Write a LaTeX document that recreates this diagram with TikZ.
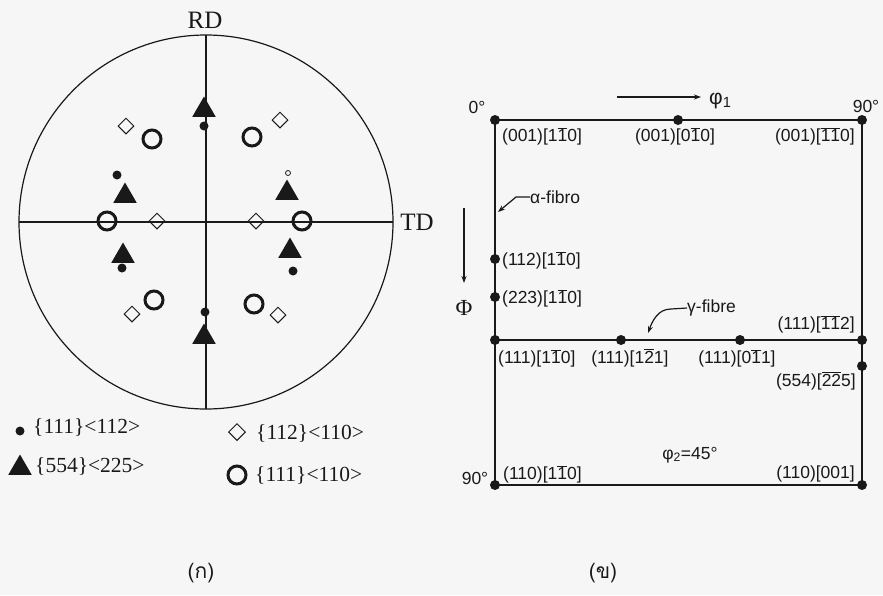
\documentclass[tikz,border=0pt]{standalone}
\usepackage{fontspec}
\setmainfont{Liberation Serif}
\newfontfamily\arialf{Liberation Sans}
\newfontfamily\thaifont[Script=Thai]{Loma}
\usetikzlibrary{shapes.geometric,arrows.meta}
\newcommand{\nb}[1]{\ensuremath{\overline{\mbox{#1}}}}
\definecolor{bgc}{RGB}{246,246,246}
\definecolor{ink}{RGB}{25,25,25}
\tikzset{
  pdot/.style={circle,fill=ink,inner sep=0pt,minimum size=9pt},
  sdot/.style={circle,draw=ink,line width=0.8pt,inner sep=0pt,minimum size=5pt},
  tri/.style={regular polygon,regular polygon sides=3,fill=ink,inner sep=0pt,minimum size=27pt},
  ocirc/.style={circle,draw=ink,line width=3pt,inner sep=0pt,minimum size=18pt},
  dia/.style={diamond,draw=ink,line width=1pt,inner sep=0pt,minimum size=16pt},
  rdot/.style={circle,fill=ink,inner sep=0pt,minimum size=10pt},
  lab/.style={font=\arialf\fontsize{17.5}{19}\selectfont,text=ink,inner sep=0pt},
  leg/.style={font=\fontsize{21.5}{23}\selectfont,text=ink,inner sep=0pt},
  ax/.style={font=\fontsize{25}{27}\selectfont,text=ink,inner sep=0pt},
  frame/.style={draw=ink,line width=1.9pt},
  thinl/.style={draw=ink,line width=1.2pt},
  arr/.style={draw=ink,line width=1.2pt,-{Stealth[length=7pt,width=5pt]}},
  captxt/.style={font=\thaifont\fontsize{21}{23}\selectfont,text=ink,inner sep=0pt}
}
\begin{document}
\begin{tikzpicture}[x=1pt,y=-1pt]
\fill[bgc] (0,0) rectangle (883,595);
\useasboundingbox (0,0) rectangle (883,595);

% ---------- pole figure ----------
\coordinate (pc) at (206,222);
\draw[thinl] (pc) circle[radius=187];
\coordinate (vt) at (206,35);
\coordinate (vb) at (206,409);
\coordinate (hl) at (19,222);
\coordinate (hr) at (393,222);
\draw[thinl] (vt) -- (vb);
\draw[thinl] (hl) -- (hr);
\node[ax] (rd) at (205,20) {RD};
\node[ax] (td) at (417,222) {TD};

% triangles
\node[tri] (t1) at (204,110) {};
\node[tri] (t2) at (204,337) {};
\node[tri] (t3) at (125,196) {};
\node[tri] (t4) at (123,256) {};
\node[tri] (t5) at (287,193) {};
\node[tri] (t6) at (290,251) {};
% dots
\node[pdot] (d1) at (204,126) {};
\node[pdot] (d2) at (205,312) {};
\node[pdot] (d3) at (117,175) {};
\node[pdot] (d4) at (122,268) {};
\node[pdot] (d5) at (293,271) {};
\node[sdot] (d6) at (288,173) {};
% open circles
\node[ocirc] (o1) at (152,139) {};
\node[ocirc] (o2) at (252,137) {};
\node[ocirc] (o3) at (107,221) {};
\node[ocirc] (o4) at (302,221) {};
\node[ocirc] (o5) at (154,300) {};
\node[ocirc] (o6) at (254,304) {};
% diamonds
\node[dia] (m1) at (126,126) {};
\node[dia] (m2) at (280,120) {};
\node[dia] (m3) at (157,221) {};
\node[dia] (m4) at (256,221) {};
\node[dia] (m5) at (132,314) {};
\node[dia] (m6) at (278,315) {};

% legend
\node[pdot] (ld1) at (20,431) {};
\node[leg,anchor=west] (lt1) at (33,427) {\{111\}<112>};
\node[tri] (ld2) at (20,468) {};
\node[leg,anchor=west] (lt2) at (35,466) {\{554\}<225>};
\node[dia,minimum size=17pt] (ld3) at (237,432) {};
\node[leg,anchor=west] (lt3) at (256,433) {\{112\}<110>};
\node[ocirc] (ld4) at (237,475) {};
\node[leg,anchor=west] (lt4) at (255,475) {\{111\}<110>};

% ---------- ODF section ----------
\node[rdot] (c1) at (495,120) {};
\node[rdot] (c2) at (678,120) {};
\node[rdot] (c3) at (862,120) {};
\node[rdot] (a1) at (495,259) {};
\node[rdot] (a2) at (495,297) {};
\node[rdot] (g1) at (495,340) {};
\node[rdot] (g2) at (621,340) {};
\node[rdot] (g3) at (740,340) {};
\node[rdot] (g4) at (862,340) {};
\node[rdot] (r1) at (862,366) {};
\node[rdot] (b1) at (495,485) {};
\node[rdot] (b2) at (862,485) {};
\draw[frame] (c1.center) -- (c3.center) -- (b2.center) -- (b1.center) -- cycle;
\draw[frame] (g1.center) -- (g4.center);

\node[lab] (z0) at (477,107) {0°};
\node[lab] (z90) at (866,106) {90°};
\node[lab] (b90) at (475,478) {90°};

\coordinate (p1s) at (617,97);
\coordinate (p1e) at (701,97);
\draw[arr] (p1s) -- (p1e);
\node[lab,anchor=west,font=\arialf\fontsize{21}{22}\selectfont] (phi1) at (709,101) {φ\textsubscript{1}};

\coordinate (fs) at (464,208);
\coordinate (fe) at (464,283);
\draw[arr] (fs) -- (fe);
\node[lab,font=\fontsize{23}{24}\selectfont] (bigphi) at (464,308) {Φ};

\node[lab,anchor=west] (l1) at (502,136) {(001)[1\nb{1}0]};
\node[lab] (l2) at (675,136) {(001)[0\nb{1}0]};
\node[lab,anchor=east] (l3) at (855,136) {(001)[\nb{1}\nb{1}0]};

\node[lab,anchor=west] (afib) at (530,197) {α-fibro};
\coordinate (afk) at (516,197);
\coordinate (aft) at (498,212);
\draw[arr] (afib.west) -- (afk) -- (aft);

\node[lab,anchor=west] (l4) at (502,260) {(112)[1\nb{1}0]};
\node[lab,anchor=west] (l5) at (502,298) {(223)[1\nb{1}0]};

\node[lab,anchor=west] (gfib) at (687,308) {γ-fibre};
\coordinate (gfk) at (671,309);
\coordinate (gft) at (648,333);
\draw[arr] (gfib.west) -- (gfk) to[out=180,in=70] (gft);

\node[lab,anchor=east] (l6) at (855,324) {(111)[\nb{1}\nb{1}2]};
\node[lab,anchor=west] (l7) at (498,358) {(111)[1\nb{1}0]};
\node[lab] (l8) at (630,358) {(111)[1\nb{2}1]};
\node[lab] (l9) at (737,358) {(111)[0\nb{1}1]};
\node[lab,anchor=east] (l10) at (856,381) {(554)[\nb{2}\nb{2}5]};
\node[lab] (l11) at (690,455) {φ\textsubscript{2}=45°};
\node[lab,anchor=west] (l12) at (503,474) {(110)[1\nb{1}0]};
\node[lab,anchor=east] (l13) at (855,474) {(110)[001]};

% captions
\node[captxt] (ca) at (201,573) {(ก)};
\node[captxt] (cb) at (603,573) {(ข)};
\end{tikzpicture}
\end{document}
